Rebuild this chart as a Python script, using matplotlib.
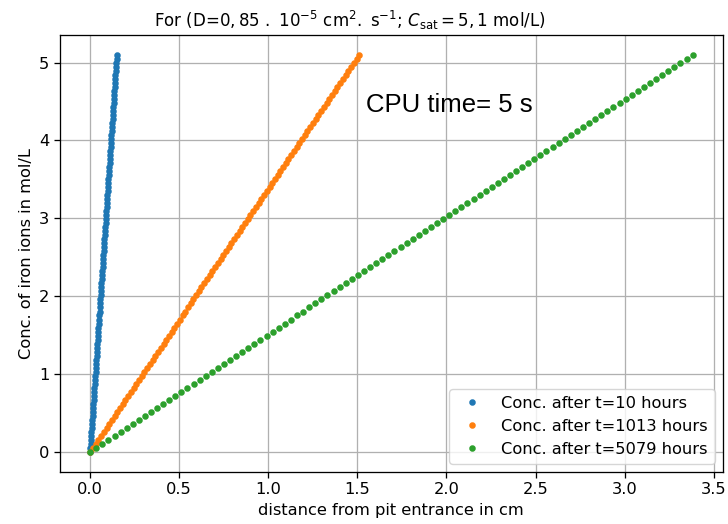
import matplotlib
matplotlib.use("Agg")
import matplotlib.pyplot as plt

# Concentration values (mol/L), same grid for all three curves
conc = [0.000, 0.052, 0.103, 0.155, 0.206, 0.258, 0.309, 0.361, 0.412, 0.464,
        0.515, 0.567, 0.618, 0.670, 0.721, 0.773, 0.824, 0.876, 0.927, 0.979,
        1.030, 1.082, 1.133, 1.185, 1.236, 1.288, 1.339, 1.391, 1.442, 1.494,
        1.545, 1.597, 1.648, 1.700, 1.752, 1.803, 1.855, 1.906, 1.958, 2.009,
        2.061, 2.112, 2.164, 2.215, 2.267, 2.318, 2.370, 2.421, 2.473, 2.524,
        2.576, 2.627, 2.679, 2.730, 2.782, 2.833, 2.885, 2.936, 2.988, 3.039,
        3.091, 3.142, 3.194, 3.245, 3.297, 3.348, 3.400, 3.452, 3.503, 3.555,
        3.606, 3.658, 3.709, 3.761, 3.812, 3.864, 3.915, 3.967, 4.018, 4.070,
        4.121, 4.173, 4.224, 4.276, 4.327, 4.379, 4.430, 4.482, 4.533, 4.585,
        4.636, 4.688, 4.739, 4.791, 4.842, 4.894, 4.945, 4.997, 5.048, 5.100]

x_10h = [0.0000, 0.0015, 0.0030, 0.0045, 0.0061, 0.0076, 0.0091, 0.0106, 0.0121, 0.0136,
         0.0152, 0.0167, 0.0182, 0.0197, 0.0212, 0.0227, 0.0242, 0.0258, 0.0273, 0.0288,
         0.0303, 0.0318, 0.0333, 0.0348, 0.0364, 0.0379, 0.0394, 0.0409, 0.0424, 0.0439,
         0.0455, 0.0470, 0.0485, 0.0500, 0.0515, 0.0530, 0.0545, 0.0561, 0.0576, 0.0591,
         0.0606, 0.0621, 0.0636, 0.0652, 0.0667, 0.0682, 0.0697, 0.0712, 0.0727, 0.0742,
         0.0758, 0.0773, 0.0788, 0.0803, 0.0818, 0.0833, 0.0848, 0.0864, 0.0879, 0.0894,
         0.0909, 0.0924, 0.0939, 0.0955, 0.0970, 0.0985, 0.1000, 0.1015, 0.1030, 0.1045,
         0.1061, 0.1076, 0.1091, 0.1106, 0.1121, 0.1136, 0.1152, 0.1167, 0.1182, 0.1197,
         0.1212, 0.1227, 0.1242, 0.1258, 0.1273, 0.1288, 0.1303, 0.1318, 0.1333, 0.1348,
         0.1364, 0.1379, 0.1394, 0.1409, 0.1424, 0.1439, 0.1455, 0.1470, 0.1485, 0.1500]

x_1013h = [0.000, 0.015, 0.031, 0.046, 0.061, 0.076, 0.092, 0.107, 0.122, 0.137,
           0.153, 0.168, 0.183, 0.198, 0.214, 0.229, 0.244, 0.259, 0.275, 0.290,
           0.305, 0.320, 0.336, 0.351, 0.366, 0.381, 0.397, 0.412, 0.427, 0.442,
           0.458, 0.473, 0.488, 0.503, 0.519, 0.534, 0.549, 0.564, 0.580, 0.595,
           0.610, 0.625, 0.641, 0.656, 0.671, 0.686, 0.702, 0.717, 0.732, 0.747,
           0.763, 0.778, 0.793, 0.808, 0.824, 0.839, 0.854, 0.869, 0.885, 0.900,
           0.915, 0.930, 0.946, 0.961, 0.976, 0.991, 1.007, 1.022, 1.037, 1.052,
           1.068, 1.083, 1.098, 1.113, 1.129, 1.144, 1.159, 1.174, 1.190, 1.205,
           1.220, 1.235, 1.251, 1.266, 1.281, 1.296, 1.312, 1.327, 1.342, 1.357,
           1.373, 1.388, 1.403, 1.418, 1.434, 1.449, 1.464, 1.479, 1.495, 1.510]

x_5079h = [0.000, 0.034, 0.068, 0.102, 0.137, 0.171, 0.205, 0.239, 0.273, 0.307,
           0.342, 0.376, 0.410, 0.444, 0.478, 0.512, 0.546, 0.581, 0.615, 0.649,
           0.683, 0.717, 0.751, 0.785, 0.820, 0.854, 0.888, 0.922, 0.956, 0.990,
           1.025, 1.059, 1.093, 1.127, 1.161, 1.195, 1.229, 1.264, 1.298, 1.332,
           1.366, 1.400, 1.434, 1.469, 1.503, 1.537, 1.571, 1.605, 1.639, 1.673,
           1.708, 1.742, 1.776, 1.810, 1.844, 1.878, 1.912, 1.947, 1.981, 2.015,
           2.049, 2.083, 2.117, 2.152, 2.186, 2.220, 2.254, 2.288, 2.322, 2.356,
           2.391, 2.425, 2.459, 2.493, 2.527, 2.561, 2.596, 2.630, 2.664, 2.698,
           2.732, 2.766, 2.800, 2.835, 2.869, 2.903, 2.937, 2.971, 3.005, 3.039,
           3.074, 3.108, 3.142, 3.176, 3.210, 3.244, 3.279, 3.313, 3.347, 3.381]

labels = ["Conc. after t=10 hours", "Conc. after t=1013 hours", "Conc. after t=5079 hours"]
series_x = [x_10h, x_1013h, x_5079h]

s = 1.17
plt.rcParams.update({
    "font.size": 10 * s,
    "axes.linewidth": 0.8 * s,
    "grid.linewidth": 0.8 * s,
    "xtick.major.size": 3.5 * s,
    "ytick.major.size": 3.5 * s,
    "xtick.major.width": 0.8 * s,
    "ytick.major.width": 0.8 * s,
    "lines.markersize": 6 * s,
    "lines.markeredgewidth": 1.0 * s,
})

fig = plt.figure(figsize=(7.28, 5.24), dpi=100)
ax = fig.add_axes([0.0824, 0.0998, 0.9103, 0.8334])

for xs, lab in zip(series_x, labels):
    ax.plot(xs, conc, '.', label=lab)

ax.grid(True)
ax.set_xlabel("distance from pit entrance in cm")
ax.set_ylabel("Conc. of iron ions in mol/L")
ax.set_title(r"For (D=$0,85\ .\ 10^{-5}$ cm$^{2}.$ s$^{-1}$; $C_{\mathrm{sat}}=5,1$ mol/L)",
             fontsize=12, x=0.437)
ax.text(1.55, 4.37, "CPU time= 5 s", fontsize=18.5, family=["Liberation Sans", "DejaVu Sans"])
ax.legend(loc="lower right")

fig.savefig("out.png", dpi=100)
